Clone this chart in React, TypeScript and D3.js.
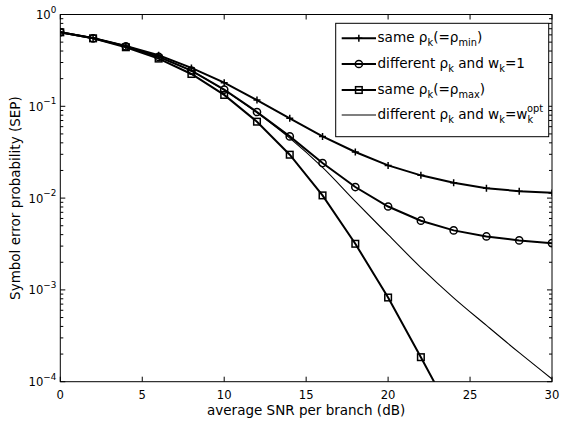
import * as d3 from 'd3'

const snr = [0, 2, 4, 6, 8, 10, 12, 14, 16, 18, 20, 22, 24, 26, 28, 30]
const sepSameMin = [0.64, 0.556, 0.455, 0.36, 0.262, 0.181, 0.117, 0.074, 0.047, 0.0318, 0.0227, 0.0177, 0.0147, 0.0128, 0.0119, 0.0114]
const sepDiffW1 = [0.64, 0.55, 0.45, 0.345, 0.245, 0.152, 0.0867, 0.047, 0.0241, 0.0132, 0.0081, 0.00567, 0.00445, 0.00382, 0.00346, 0.00323]
const sepSameMax = [0.64, 0.55, 0.44, 0.331, 0.225, 0.133, 0.068, 0.0297, 0.0107, 0.00318, 0.000826, 0.000185, 0.00004]
const sepDiffOpt = [0.64, 0.55, 0.45, 0.345, 0.243, 0.15, 0.085, 0.045, 0.0216, 0.0092, 0.004, 0.00175, 0.00082, 0.00041, 0.000207, 0.000107]

const xTicks = [0, 5, 10, 15, 20, 25, 30]
const yExponents = [0, -1, -2, -3, -4]

const W = 561
const H = 421
const margin = { top: 14.5, right: 9, bottom: 39.3, left: 60.3 }
const FONT = 'DejaVu Sans, Liberation Sans, Arial, sans-serif'

type Marker = 'plus' | 'circle' | 'square' | 'none'

function MarkerShape({ type, x, y }: { type: Marker; x: number; y: number }) {
  if (type === 'plus')
    return (
      <path d={`M${x - 3.5},${y}H${x + 3.5}M${x},${y - 3.5}V${y + 3.5}`} stroke="#000" strokeWidth={1.5} />
    )
  if (type === 'circle') return <circle cx={x} cy={y} r={3.6} fill="none" stroke="#000" strokeWidth={1.5} />
  if (type === 'square')
    return <rect x={x - 3.3} y={y - 3.3} width={6.6} height={6.6} fill="none" stroke="#000" strokeWidth={1.5} />
  return null
}

export default function App() {
  const iw = W - margin.left - margin.right
  const ih = H - margin.top - margin.bottom
  const x = d3.scaleLinear().domain([0, 30]).range([0, iw])
  const y = d3.scaleLog().domain([1e-4, 1]).range([ih, 0])

  const line = d3
    .line<[number, number]>()
    .x((d) => x(d[0]))
    .y((d) => y(d[1]))
  const smooth = d3
    .line<[number, number]>()
    .x((d) => x(d[0]))
    .y((d) => y(d[1]))
    .curve(d3.curveCatmullRom)

  const series: { vals: number[]; marker: Marker; width: number }[] = [
    { vals: sepSameMin, marker: 'plus', width: 2 },
    { vals: sepDiffW1, marker: 'circle', width: 2 },
    { vals: sepSameMax, marker: 'square', width: 2 },
    { vals: sepDiffOpt, marker: 'none', width: 1.1 },
  ]

  const minor: number[] = []
  for (let e = -4; e < 0; e++) for (let k = 2; k <= 9; k++) minor.push(k * Math.pow(10, e))

  const legendX = 335.7 - margin.left
  const legendY = 23.3 - margin.top
  const legendRows = [38.3, 64, 90, 115].map((v) => v - margin.top)
  const tx = 377.5 - margin.left
  const sub = { fontSize: 9.8 }

  return (
    <svg width={W} height={H} style={{ position: 'absolute', left: 0, top: 0, background: '#fff' }} fontFamily={FONT}>
      <defs>
        <clipPath id="plotclip">
          <rect x={0} y={0} width={iw} height={ih} />
        </clipPath>
      </defs>
      <g transform={`translate(${margin.left},${margin.top})`}>
        <rect width={iw} height={ih} fill="#fff" />
        <g clipPath="url(#plotclip)">
          {series.map((s, i) => {
            const pts = s.vals.map((v, j) => [snr[j], v] as [number, number])
            return (
              <g key={i}>
                <path d={(s.marker === 'none' ? smooth : line)(pts) || ''} fill="none" stroke="#000" strokeWidth={s.width} />
                {pts.map((p, j) => (
                  <MarkerShape key={j} type={s.marker} x={x(p[0])} y={y(p[1])} />
                ))}
              </g>
            )
          })}
        </g>

        {/* frame and ticks */}
        <rect width={iw} height={ih} fill="none" stroke="#000" strokeWidth={1} />
        {xTicks.map((t) => (
          <g key={t}>
            <line x1={x(t)} x2={x(t)} y1={ih} y2={ih - 5} stroke="#000" />
            <line x1={x(t)} x2={x(t)} y1={0} y2={5} stroke="#000" />
            <text x={x(t)} y={ih + 17.5} textAnchor="middle" fontSize={11.6}>
              {t}
            </text>
          </g>
        ))}
        {yExponents.map((e) => {
          const yy = y(Math.pow(10, e))
          return (
            <g key={e}>
              <line x1={0} x2={5} y1={yy} y2={yy} stroke="#000" />
              <line x1={iw} x2={iw - 5} y1={yy} y2={yy} stroke="#000" />
              <text x={-4} y={yy + 4.5} textAnchor="end" fontSize={11.6}>
                10
                <tspan fontSize={8.8} dy={-6.5}>
                  {e === 0 ? '0' : `\u2212${-e}`}
                </tspan>
              </text>
            </g>
          )
        })}
        {minor.map((m) => (
          <g key={m}>
            <line x1={0} x2={3} y1={y(m)} y2={y(m)} stroke="#000" />
            <line x1={iw} x2={iw - 3} y1={y(m)} y2={y(m)} stroke="#000" />
          </g>
        ))}

        {/* legend */}
        <rect x={legendX} y={legendY} width={213} height={113.4} fill="#fff" stroke="#000" strokeWidth={1} />
        {series.map((s, i) => {
          const ly = legendRows[i]
          const lx0 = 341.7 - margin.left
          const lx1 = 376 - margin.left
          return (
            <g key={i}>
              <line x1={lx0} x2={lx1} y1={ly} y2={ly} stroke="#000" strokeWidth={s.width} />
              <MarkerShape type={s.marker} x={(lx0 + lx1) / 2} y={ly} />
            </g>
          )
        })}
        <g fontSize={13.6}>
          <text x={tx} y={legendRows[0] + 4}>
            same ρ<tspan {...sub} dy={4}>k</tspan>
            <tspan dy={-4}>(=ρ</tspan>
            <tspan {...sub} dy={4}>min</tspan>
            <tspan dy={-4}>)</tspan>
          </text>
          <text x={tx} y={legendRows[1] + 4}>
            different ρ<tspan {...sub} dy={4}>k</tspan>
            <tspan dy={-4}> and w</tspan>
            <tspan {...sub} dy={4}>k</tspan>
            <tspan dy={-4}>=1</tspan>
          </text>
          <text x={tx} y={legendRows[2] + 4}>
            same ρ<tspan {...sub} dy={4}>k</tspan>
            <tspan dy={-4}>(=ρ</tspan>
            <tspan {...sub} dy={4}>max</tspan>
            <tspan dy={-4}>)</tspan>
          </text>
          <text x={tx} y={legendRows[3] + 4}>
            different ρ<tspan {...sub} dy={4}>k</tspan>
            <tspan dy={-4}> and w</tspan>
            <tspan {...sub} dy={4}>k</tspan>
            <tspan dy={-4}>=w</tspan>
            <tspan {...sub} dy={4}>k</tspan>
            <tspan {...sub} dx={-5.7} dy={-11.5}>opt</tspan>
          </text>
        </g>

        {/* axis labels */}
        <text x={iw / 2} y={ih + 33.5} textAnchor="middle" fontSize={13.5}>
          average SNR per branch (dB)
        </text>
        <text transform={`translate(${-40},${ih / 2}) rotate(-90)`} textAnchor="middle" fontSize={13.5}>
          Symbol error probability (SEP)
        </text>
      </g>
    </svg>
  )
}
